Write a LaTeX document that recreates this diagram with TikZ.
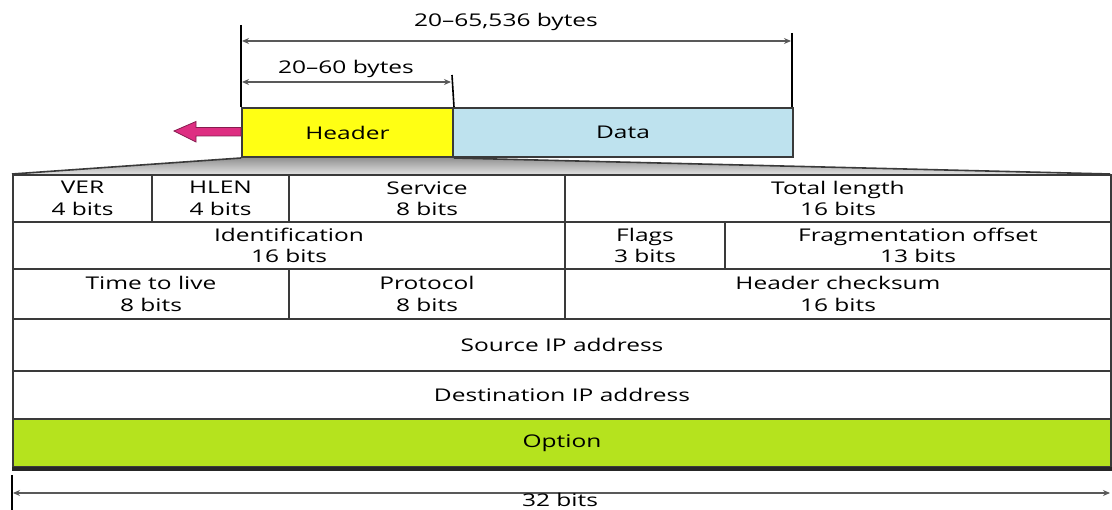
\documentclass[tikz,border=0pt]{standalone}
\usepackage{fontspec}
\setmainfont{Open Sans}[FakeStretch=1.4]
\usetikzlibrary{arrows.meta,calc}
\definecolor{hdryellow}{HTML}{FFFF14}
\definecolor{datablue}{HTML}{BEE2EE}
\definecolor{optgreen}{HTML}{B5E31E}
\definecolor{arrpink}{HTML}{DE2E82}
\definecolor{linegray}{HTML}{3A3A3A}
\begin{document}
\begin{tikzpicture}[x=1pt,y=-1pt,
  cell/.style={draw=linegray,line width=2pt,inner sep=0pt,align=center,font=\fontsize{17.5}{21.5}\selectfont},
  lbl/.style={font=\fontsize{17.5}{21}\selectfont,inner sep=1pt},
  dim/.style={draw=gray!70!black,line width=1.8pt,{Stealth[length=7pt,width=6pt]}-{Stealth[length=7pt,width=6pt]}},
  tick/.style={draw=black,line width=1.6pt}]
\useasboundingbox (0,0) rectangle (1112,510);
% packet
\node[cell,fill=hdryellow,minimum width=211pt,minimum height=49pt,anchor=north west] (hdr) at (241,107) {Header};
\node[cell,fill=datablue,minimum width=340pt,minimum height=49pt,anchor=north west] (data) at (452,107) {Data};
% fan
\coordinate (fl) at (12,174);
\coordinate (fr) at (1110,174);
\fill[top color=gray!85,bottom color=gray!25] (hdr.south west) -- (hdr.south east) -- (fr) -- (fl) -- cycle;
\draw[linegray,line width=1.6pt] (fl) -- (hdr.south west);
\draw[linegray,line width=1.6pt] (hdr.south east) -- (fr);
% pink arrow
\coordinate (pa) at (174,131);
\filldraw[fill=arrpink,draw=arrpink!60!black,line width=0.8pt]
  (hdr.west) ++(0,-5) -- ++(-45,0) -- ++(0,-6) -- (pa) -- ++(22,11) -- ++(0,-6) -- ++(45,0) -- cycle;
% dimension lines
\coordinate (t1a) at (241,25); \coordinate (t1b) at (241,107);
\coordinate (t2a) at (792,33); \coordinate (t2b) at (792,107);
\coordinate (t3a) at (452,75);
\draw[tick] (t1a) -- (t1b);
\draw[tick] (t2a) -- (t2b);
\draw[tick] (t3a) -- (hdr.north east);
\coordinate (d1l) at (242,41); \coordinate (d1r) at (791,41);
\draw[dim] (d1l) -- (d1r);
\node[lbl] (l1) at (506,22) {20–65,536 bytes};
\coordinate (d2l) at (242,82); \coordinate (d2r) at (451,82);
\draw[dim] (d2l) -- (d2r);
\node[lbl] (l2) at (346,69) {20–60 bytes};
% table rows
\newcommand{\cellbox}[6]{\node[cell,fill=#6,minimum width=#3pt,minimum height=#4pt,anchor=north west] (#1) at (#2) {#5};}
\cellbox{ver}{12,174}{139}{47}{VER\\4 bits}{white}
\cellbox{hlen}{151,174}{137}{47}{HLEN\\4 bits}{white}
\cellbox{svc}{288,174}{276}{47}{Service\\8 bits}{white}
\cellbox{tot}{564,174}{546}{47}{Total length\\16 bits}{white}
\cellbox{ident}{12,221}{552}{47}{Identification\\16 bits}{white}
\cellbox{flags}{564,221}{160}{47}{Flags\\3 bits}{white}
\cellbox{frag}{724,221}{386}{47}{Fragmentation offset\\13 bits}{white}
\cellbox{ttl}{12,268}{276}{50}{Time to live\\8 bits}{white}
\cellbox{proto}{288,268}{276}{50}{Protocol\\8 bits}{white}
\cellbox{chk}{564,268}{546}{50}{Header checksum\\16 bits}{white}
\cellbox{src}{12,318}{1098}{52}{Source IP address}{white}
\cellbox{dst}{12,370}{1098}{48}{Destination IP address}{white}
\cellbox{opt}{12,418}{1098}{48}{Option}{optgreen}
\draw[black!85,line width=3.5pt] ($(opt.south west)+(0,1)$) -- ($(opt.south east)+(0,1)$);
% 32 bits
\coordinate (t4a) at (12,475); \coordinate (t4b) at (12,510);
\draw[tick] (t4a) -- (t4b);
\coordinate (d4l) at (13,493); \coordinate (d4r) at (1110,493);
\draw[dim] (d4l) -- (d4r);
\node[lbl,anchor=base] (l4) at (560,507) {32 bits};
\end{tikzpicture}
\end{document}
